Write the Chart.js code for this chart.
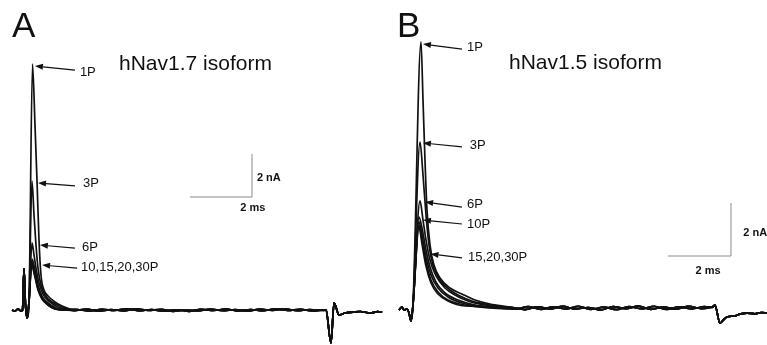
<!DOCTYPE html>
<html>
<head>
<meta charset="utf-8">
<script src="https://cdn.jsdelivr.net/npm/chart.js@4/dist/chart.umd.min.js"></script>
<style>
  html, body { margin: 0; padding: 0; background: #fff; }
  #wrap { position: relative; width: 767px; height: 345px; overflow: hidden; }
  #wrap canvas { position: absolute; top: 0; }
</style>
</head>
<body>
<div id="wrap">
  <canvas id="cA" width="390" height="345" style="left:0px"></canvas>
  <canvas id="cB" width="377" height="345" style="left:390px"></canvas>
</div>
<script>
// ---------- Panel A (hNav1.7): time in ms, current in nA ----------
const pulseLabelsA = ['1P', '3P', '6P', '10P', '15P', '20P', '30P'];
const preA = [[0,0],[0.097,-0.047],[0.194,0.047],[0.29,-0.047],[0.339,0],[0.387,1.91],[0.435,0.23],[0.484,-0.37],[0.548,0.37]];
const a1P  = [[0.661,11.44],[0.742,8.6],[0.806,6.05],[0.871,3.26],[0.935,1.63],[1.032,0.93],[1.161,0.65],[1.387,0.37],[1.613,0.186],[1.871,0.047]];
const a3P  = [[0.645,6.0],[0.71,4.42],[0.774,3.02],[0.839,1.95],[0.935,1.16],[1.065,0.70],[1.29,0.37],[1.548,0.186],[1.806,0.047]];
const a6P  = [[0.645,3.12],[0.71,2.56],[0.774,1.95],[0.871,1.26],[1.0,0.74],[1.226,0.37],[1.484,0.14],[1.8,0.03]];
const a10P = [[0.645,2.37],[0.742,1.86],[0.839,1.16],[0.968,0.65],[1.161,0.33],[1.419,0.093],[1.75,0.02]];
const a15P = [[0.629,2.23],[0.742,1.67],[0.839,1.07],[0.968,0.60],[1.161,0.28],[1.387,0.093],[1.7,0.01]];
const a20P = [[0.629,2.14],[0.742,1.58],[0.839,0.98],[0.968,0.56],[1.161,0.23],[1.387,0.047],[1.7,0.0]];
const a30P = [[0.629,2.09],[0.742,1.53],[0.839,0.93],[0.968,0.51],[1.161,0.23],[1.387,0.047],[1.7,-0.01]];
const baseA1 = [[2.1,0.02],[2.5,-0.04],[2.9,0.03],[3.3,-0.02],[3.7,0.05],[4.1,-0.03],[4.5,0.02],[4.9,-0.05],[5.3,0.01],[5.7,-0.06],[6.1,0.03],[6.5,-0.02],[6.9,0.04],[7.3,-0.04],[7.7,0.02],[8.1,-0.03],[8.5,0.05],[8.9,-0.02],[9.3,0.03],[9.7,-0.04],[10.1,0.01]];
const baseA2 = [[2.0,-0.03],[2.4,0.04],[2.8,-0.05],[3.2,0.02],[3.6,-0.04],[4.0,0.05],[4.4,-0.02],[4.8,0.03],[5.2,-0.07],[5.6,0.0],[6.0,-0.04],[6.4,0.04],[6.8,-0.03],[7.2,0.02],[7.6,-0.05],[8.0,0.04],[8.4,-0.02],[8.8,0.05],[9.2,-0.03],[9.6,0.02],[10.05,-0.02]];
const endA = [[10.13,0],[10.29,-1.53],[10.39,0.33],[10.55,-0.23],[10.74,-0.14],[11.0,-0.1],[11.23,-0.07],[11.55,-0.14],[11.8,-0.08],[11.94,-0.1]];
const scaleBarA = [[5.742,5.256],[7.742,5.256],[7.742,7.256]];

// ---------- Panel B (hNav1.5) ----------
const pulseLabelsB = ['1P', '3P', '6P', '10P', '15P', '20P', '30P'];
const preB = [[0,-0.075],[0.095,0.038],[0.159,-0.075],[0.254,-0.038],[0.317,-0.19],[0.381,-0.49],[0.444,0.113]];
const b1P  = [[0.698,10.04],[0.762,7.85],[0.825,5.58],[0.889,3.70],[0.984,2.38],[1.111,1.62],[1.302,1.13],[1.619,0.755],[2.0,0.528],[2.413,0.302],[2.889,0.151],[3.524,0.038]];
const b3P  = [[0.667,6.26],[0.762,5.02],[0.857,3.51],[0.952,2.38],[1.079,1.62],[1.302,1.057],[1.619,0.679],[1.937,0.453],[2.317,0.264],[2.889,0.113],[3.365,0.038]];
const b6P  = [[0.667,4.04],[0.762,3.32],[0.857,2.57],[0.984,1.81],[1.175,1.21],[1.460,0.755],[1.778,0.49],[2.19,0.264],[2.73,0.113],[3.206,0.038]];
const b10P = [[0.635,3.43],[0.730,3.02],[0.857,2.19],[0.984,1.55],[1.175,0.98],[1.460,0.566],[1.873,0.302],[2.413,0.113],[2.889,0.038]];
const b15P = [[0.635,3.25],[0.730,2.75],[0.857,1.92],[1.016,1.25],[1.238,0.755],[1.556,0.415],[2.0,0.189],[2.571,0.075]];
const b20P = [[0.635,3.13],[0.730,2.57],[0.857,1.74],[1.016,1.057],[1.238,0.604],[1.556,0.302],[2.095,0.113]];
const b30P = [[0.635,3.06],[0.730,2.42],[0.857,1.58],[1.016,0.943],[1.238,0.528],[1.556,0.264],[2.095,0.075]];
const baseB1 = [[3.6,0.02],[4.0,-0.06],[4.4,0.04],[4.8,-0.03],[5.2,0.06],[5.6,-0.04],[6.0,0.02],[6.4,-0.07],[6.8,0.05],[7.2,-0.02],[7.6,0.07],[8.0,-0.05],[8.4,0.03],[8.8,-0.04],[9.2,0.06],[9.6,-0.02],[9.95,0.05]];
const baseB2 = [[3.7,-0.04],[4.1,0.05],[4.5,-0.05],[4.9,0.04],[5.3,-0.03],[5.7,0.06],[6.1,-0.05],[6.5,0.03],[6.9,-0.06],[7.3,0.05],[7.7,-0.03],[8.1,0.06],[8.5,-0.05],[8.9,0.04],[9.3,-0.03],[9.7,0.05],[9.95,0.02]];
const endB = [[10.03,0.11],[10.19,-0.57],[10.3,-0.45],[10.41,-0.34],[10.67,-0.3],[10.85,-0.22],[11.05,-0.19],[11.3,-0.22],[11.5,-0.17],[11.68,-0.19]];
const scaleBarB = [[8.54,1.962],[10.54,1.962],[10.54,3.962]];

// ---------- annotations (anchor points in data units) ----------
const calloutsA = [
  { text: '1P',           tail: [2.03, 11.16], head: [0.74, 11.35], at: [2.19, 11.07] },
  { text: '3P',           tail: [2.03, 5.77],  head: [0.84, 5.91],  at: [2.29, 5.91] },
  { text: '6P',           tail: [2.03, 2.88],  head: [0.90, 3.02],  at: [2.26, 2.93] },
  { text: '10,15,20,30P', tail: [2.10, 1.95],  head: [0.97, 2.09],  at: [2.23, 2.00] }
];
const calloutsB = [
  { text: '1P',        tail: [2.0, 9.77], head: [0.76, 9.96], at: [2.16, 9.85] },
  { text: '3P',        tail: [2.0, 6.08], head: [0.76, 6.23], at: [2.25, 6.15] },
  { text: '6P',        tail: [2.0, 3.81], head: [0.83, 4.00], at: [2.16, 3.92] },
  { text: '10P',       tail: [2.0, 3.17], head: [0.76, 3.32], at: [2.16, 3.17] },
  { text: '15,20,30P', tail: [2.0, 1.89], head: [1.00, 2.04], at: [2.19, 1.92] }
];
const scaleTextA = [{ text: '2 nA', at: [7.90, 6.14], align: 'left' }, { text: '2 ms', at: [7.77, 4.74], align: 'center' }];
const scaleTextB = [{ text: '2 nA', at: [10.93, 2.83], align: 'left' }, { text: '2 ms', at: [9.81, 1.40], align: 'center' }];

const FONT = '"Liberation Sans", Arial, Helvetica, sans-serif';

function toXY(arr) { return arr.map(p => ({ x: p[0], y: p[1] })); }

function traceSet(pre, decays, bases, end) {
  return decays.map((d, i) => ({
    data: toXY(pre.concat(d, bases[i % bases.length], end)),
    borderColor: '#111',
    borderWidth: 1.7,
    pointRadius: 0,
    tension: 0,
    cubicInterpolationMode: 'monotone',
    fill: false
  }));
}

function annotPlugin(letter, letterPos, title, titlePos, callouts, scaleTexts) {
  return {
    id: 'annot' + letter,
    afterDraw(chart) {
      const ctx = chart.ctx, xs = chart.scales.x, ys = chart.scales.y;
      const px = p => [xs.getPixelForValue(p[0]), ys.getPixelForValue(p[1])];
      ctx.save();
      ctx.fillStyle = '#111';
      ctx.textBaseline = 'alphabetic';
      ctx.textAlign = 'left';
      ctx.font = '35px ' + FONT;
      ctx.fillText(letter, letterPos[0], letterPos[1]);
      ctx.font = '21px ' + FONT;
      ctx.fillText(title, titlePos[0], titlePos[1]);
      // callouts
      ctx.font = '13px ' + FONT;
      ctx.textBaseline = 'middle';
      ctx.strokeStyle = '#111';
      ctx.lineWidth = 1.2;
      callouts.forEach(c => {
        const [tx, ty] = px(c.tail), [hx, hy] = px(c.head);
        const ang = Math.atan2(hy - ty, hx - tx);
        const L = 8, W = 3;
        const bx = hx - L * Math.cos(ang), by = hy - L * Math.sin(ang);
        ctx.beginPath(); ctx.moveTo(tx, ty); ctx.lineTo(bx, by); ctx.stroke();
        ctx.beginPath();
        ctx.moveTo(hx, hy);
        ctx.lineTo(bx + W * Math.sin(ang), by - W * Math.cos(ang));
        ctx.lineTo(bx - W * Math.sin(ang), by + W * Math.cos(ang));
        ctx.closePath(); ctx.fill();
        const [lx, ly] = px(c.at);
        ctx.fillText(c.text, lx, ly);
      });
      ctx.font = 'bold 11px ' + FONT;
      scaleTexts.forEach(s => {
        const [lx, ly] = px(s.at);
        ctx.textAlign = s.align;
        ctx.fillText(s.text, lx, ly);
      });
      ctx.restore();
    }
  };
}

function makeChart(id, sets, bar, xr, yr, plugin) {
  sets.push({
    data: toXY(bar), borderColor: '#8a8a8a', borderWidth: 1, pointRadius: 0, tension: 0, fill: false
  });
  return new Chart(document.getElementById(id), {
    type: 'line',
    data: { datasets: sets },
    options: {
      responsive: false,
      animation: false,
      devicePixelRatio: 1,
      layout: { padding: 0 },
      plugins: { legend: { display: false }, tooltip: { enabled: false }, title: { display: false } },
      scales: {
        x: { type: 'linear', min: xr[0], max: xr[1], display: false },
        y: { type: 'linear', min: yr[0], max: yr[1], display: false }
      }
    },
    plugins: [plugin]
  });
}

const setsA = traceSet(preA, [a1P, a3P, a6P, a10P, a15P, a20P, a30P], [baseA1, baseA2], endA);
setsA.forEach((s, i) => s.label = pulseLabelsA[i]);
makeChart('cA', setsA, scaleBarA, [-0.387, 12.194], [-1.628, 14.419],
  annotPlugin('A', [12, 37], 'hNav1.7 isoform', [119, 70], calloutsA, scaleTextA));

const setsB = traceSet(preB, [b1P, b3P, b6P, b10P, b15P, b20P, b30P], [baseB1, baseB2], endB);
setsB.forEach((s, i) => s.label = pulseLabelsB[i]);
makeChart('cB', setsB, scaleBarB, [-0.2857, 11.683], [-1.396, 11.623],
  annotPlugin('B', [7, 37], 'hNav1.5 isoform', [119, 69], calloutsB, scaleTextB));
</script>
</body>
</html>
